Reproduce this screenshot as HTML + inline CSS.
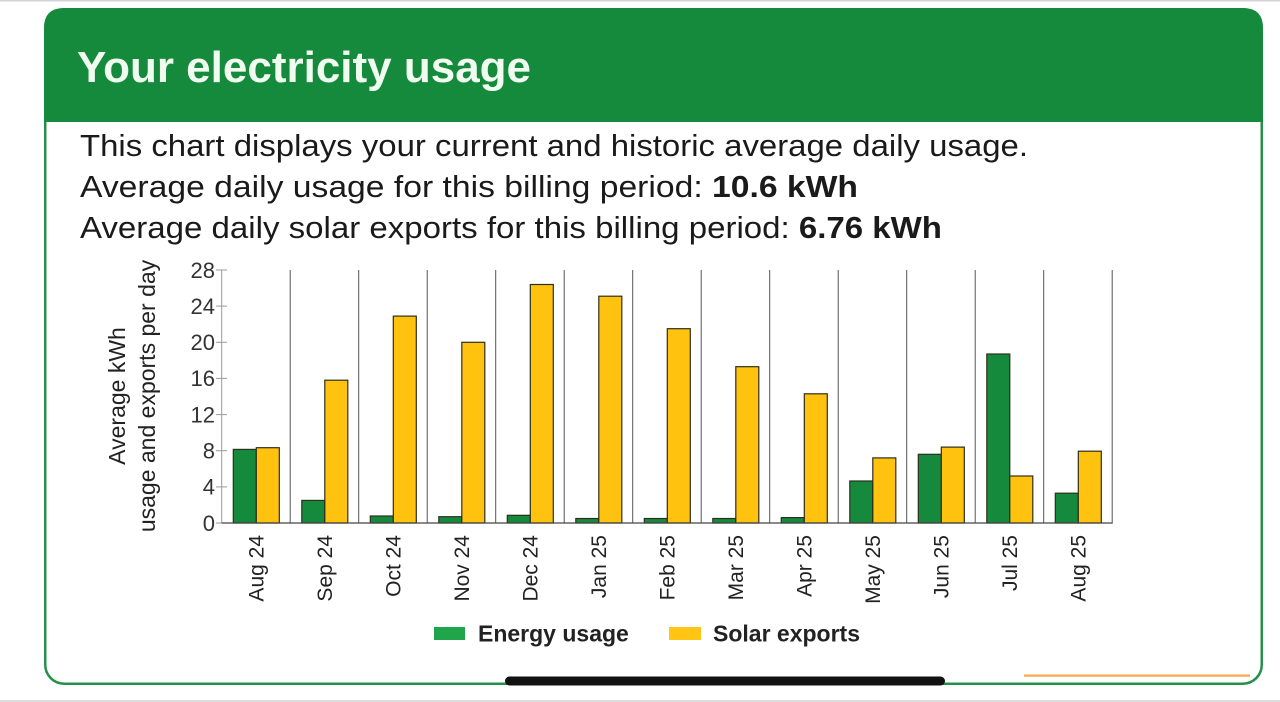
<!DOCTYPE html>
<html>
<head>
<meta charset="utf-8">
<style>
  html,body{margin:0;padding:0;background:#fff;}
  svg{display:block;}
  text{font-family:"Liberation Sans",Arial,sans-serif;}
</style>
</head>
<body>
<svg width="1280" height="702" viewBox="0 0 1280 702" xmlns="http://www.w3.org/2000/svg">
  <rect x="0" y="0" width="1280" height="702" fill="#ffffff"/>
  <rect x="0" y="0" width="1280" height="1.5" fill="#d4d4da"/>
  <rect x="0" y="700" width="1280" height="2" fill="#dcdcdc"/>

  <!-- card -->
  <rect x="45.25" y="9.25" width="1216.5" height="674.5" rx="19" ry="19" fill="#ffffff" stroke="#24904a" stroke-width="2.5"/>
  <path d="M44,122 V28 Q44,8 64,8 H1243 Q1263,8 1263,28 V122 Z" fill="#168a3c"/>
  <text x="77" y="82" font-size="44" font-weight="bold" fill="#effcef">Your electricity usage</text>

  <text x="80" y="156" font-size="31" fill="#1a1a1a" textLength="948" lengthAdjust="spacingAndGlyphs">This chart displays your current and historic average daily usage.</text>
  <text x="80" y="197" font-size="31" fill="#1a1a1a" textLength="778" lengthAdjust="spacingAndGlyphs">Average daily usage for this billing period: <tspan font-weight="bold">10.6 kWh</tspan></text>
  <text x="80" y="238" font-size="31" fill="#1a1a1a" textLength="862" lengthAdjust="spacingAndGlyphs">Average daily solar exports for this billing period: <tspan font-weight="bold">6.76 kWh</tspan></text>

  <!-- y axis title -->
  <text transform="translate(125,396) rotate(-90)" text-anchor="middle" font-size="23" fill="#222">Average kWh</text>
  <text transform="translate(155,396) rotate(-90)" text-anchor="middle" font-size="23" fill="#222">usage and exports per day</text>

  <!-- y ticks -->
  <g stroke="#999" stroke-width="1">
    <line x1="216" y1="270" x2="227" y2="270"/>
    <line x1="216" y1="306.1" x2="227" y2="306.1"/>
    <line x1="216" y1="342.3" x2="227" y2="342.3"/>
    <line x1="216" y1="378.4" x2="227" y2="378.4"/>
    <line x1="216" y1="414.6" x2="227" y2="414.6"/>
    <line x1="216" y1="450.7" x2="227" y2="450.7"/>
    <line x1="216" y1="486.9" x2="227" y2="486.9"/>
    <line x1="216" y1="523" x2="227" y2="523"/>
    <line x1="221.7" y1="270" x2="221.7" y2="523"/>
  </g>
  <g font-size="22" fill="#333" text-anchor="end">
    <text x="215" y="277.8">28</text>
    <text x="215" y="313.9">24</text>
    <text x="215" y="350.1">20</text>
    <text x="215" y="386.2">16</text>
    <text x="215" y="422.4">12</text>
    <text x="215" y="458.5">8</text>
    <text x="215" y="494.7">4</text>
    <text x="215" y="530.8">0</text>
  </g>

  <!-- separators -->
  <g stroke="#555" stroke-width="1">
    <line x1="290.2" y1="270" x2="290.2" y2="523"/>
    <line x1="358.7" y1="270" x2="358.7" y2="523"/>
    <line x1="427.2" y1="270" x2="427.2" y2="523"/>
    <line x1="495.7" y1="270" x2="495.7" y2="523"/>
    <line x1="564.2" y1="270" x2="564.2" y2="523"/>
    <line x1="632.7" y1="270" x2="632.7" y2="523"/>
    <line x1="701.2" y1="270" x2="701.2" y2="523"/>
    <line x1="769.7" y1="270" x2="769.7" y2="523"/>
    <line x1="838.2" y1="270" x2="838.2" y2="523"/>
    <line x1="906.7" y1="270" x2="906.7" y2="523"/>
    <line x1="975.2" y1="270" x2="975.2" y2="523"/>
    <line x1="1043.7" y1="270" x2="1043.7" y2="523"/>
    <line x1="1112.2" y1="270" x2="1112.2" y2="523"/>
  </g>

  <!-- bars -->
  <g stroke="#2e2e1e" stroke-width="1.2">
    <g fill="#168a3c">
      <rect x="233.3" y="449.4" width="23" height="73.6"/>
      <rect x="301.8" y="500.4" width="23" height="22.6"/>
      <rect x="370.3" y="516" width="23" height="7"/>
      <rect x="438.8" y="516.7" width="23" height="6.3"/>
      <rect x="507.3" y="515.3" width="23" height="7.7"/>
      <rect x="575.8" y="518.5" width="23" height="4.5"/>
      <rect x="644.3" y="518.5" width="23" height="4.5"/>
      <rect x="712.8" y="518.5" width="23" height="4.5"/>
      <rect x="781.3" y="517.6" width="23" height="5.4"/>
      <rect x="849.8" y="481" width="23" height="42"/>
      <rect x="918.3" y="454.3" width="23" height="68.7"/>
      <rect x="986.8" y="354" width="23" height="169"/>
      <rect x="1055.3" y="493.2" width="23" height="29.8"/>
    </g>
    <g fill="#ffc20e">
      <rect x="256.3" y="447.7" width="23" height="75.3"/>
      <rect x="324.8" y="380.2" width="23" height="142.8"/>
      <rect x="393.3" y="316.1" width="23" height="206.9"/>
      <rect x="461.8" y="342.3" width="23" height="180.7"/>
      <rect x="530.3" y="284.5" width="23" height="238.5"/>
      <rect x="598.8" y="296.2" width="23" height="226.8"/>
      <rect x="667.3" y="328.7" width="23" height="194.3"/>
      <rect x="735.8" y="366.7" width="23" height="156.3"/>
      <rect x="804.3" y="393.8" width="23" height="129.2"/>
      <rect x="872.8" y="457.9" width="23" height="65.1"/>
      <rect x="941.3" y="447.1" width="23" height="75.9"/>
      <rect x="1009.8" y="476" width="23" height="47"/>
      <rect x="1078.3" y="451.2" width="23" height="71.8"/>
    </g>
  </g>
  <line x1="221.7" y1="523" x2="1112.7" y2="523" stroke="#444" stroke-width="1.3"/>

  <!-- x labels -->
  <g font-size="21" fill="#222" text-anchor="end">
    <text transform="translate(256,535) rotate(-90)" dy="0.36em">Aug 24</text>
    <text transform="translate(324.5,535) rotate(-90)" dy="0.36em">Sep 24</text>
    <text transform="translate(393,535) rotate(-90)" dy="0.36em">Oct 24</text>
    <text transform="translate(461.5,535) rotate(-90)" dy="0.36em">Nov 24</text>
    <text transform="translate(530,535) rotate(-90)" dy="0.36em">Dec 24</text>
    <text transform="translate(598.5,535) rotate(-90)" dy="0.36em">Jan 25</text>
    <text transform="translate(667,535) rotate(-90)" dy="0.36em">Feb 25</text>
    <text transform="translate(735.5,535) rotate(-90)" dy="0.36em">Mar 25</text>
    <text transform="translate(804,535) rotate(-90)" dy="0.36em">Apr 25</text>
    <text transform="translate(872.5,535) rotate(-90)" dy="0.36em">May 25</text>
    <text transform="translate(941,535) rotate(-90)" dy="0.36em">Jun 25</text>
    <text transform="translate(1009.5,535) rotate(-90)" dy="0.36em">Jul 25</text>
    <text transform="translate(1078,535) rotate(-90)" dy="0.36em">Aug 25</text>
  </g>

  <!-- legend -->
  <rect x="434" y="627" width="31" height="13" fill="#21a54b"/>
  <text x="478" y="641.5" font-size="23" font-weight="bold" fill="#222">Energy usage</text>
  <rect x="669" y="627" width="32" height="13" fill="#ffc414"/>
  <text x="713" y="641.5" font-size="23" font-weight="bold" fill="#222">Solar exports</text>

  <!-- bottom decorations -->
  <rect x="1024" y="674.5" width="226" height="2.2" fill="#f6a848"/>
  <rect x="505" y="676.5" width="440" height="9" rx="4.5" ry="4.5" fill="#111"/>
</svg>
</body>
</html>
